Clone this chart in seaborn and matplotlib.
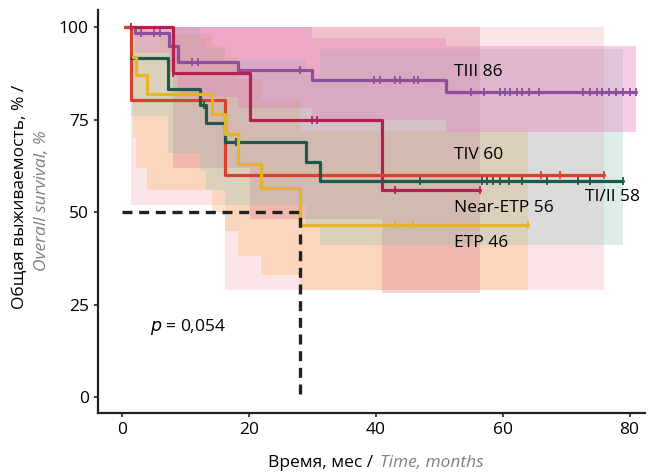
import numpy as np
import pandas as pd
import seaborn as sns
import matplotlib.pyplot as plt

# KM step curves (time in months, survival in %)
groups = ['TIII', 'Near-ETP', 'TIV', 'TI/II', 'ETP']

t_tiii = [0.5, 2, 7.5, 8.8, 18.3, 30, 51, 81]
s_tiii = [100, 98.5, 95, 90.5, 88.4, 85.7, 82.4, 82.4]
lo_tiii = [100, 93, 88, 81, 78, 75, 71.5, 71.5]
hi_tiii = [100, 100, 100, 100, 100, 97, 95, 95]

t_near = [0.5, 8, 20.2, 41, 56.5]
s_near = [100, 87.5, 75, 56, 56]
lo_near = [100, 62, 48, 28, 28]
hi_near = [100, 100, 100, 100, 100]

t_tiv = [0.5, 1.5, 16.2, 76]
s_tiv = [100, 80.3, 60, 60]
lo_tiv = [100, 52, 29, 29]
hi_tiv = [100, 100, 100, 100]

t_ti = [1.5, 7.3, 12.3, 13.3, 16.2, 29, 31.2, 79]
s_ti = [91.7, 83.3, 79, 74, 69, 63.5, 58.5, 58.5]
lo_ti = [76, 66, 61, 56, 52, 46, 41, 41]
hi_ti = [100, 100, 97, 94, 91, 87, 94, 94]

t_etp = [1.7, 2.3, 4, 14.2, 16.2, 18.3, 22, 28, 64]
s_etp = [92, 87, 82, 76.5, 71, 63, 56.5, 46.5, 46.5]
lo_etp = [70, 62, 56, 50, 45, 38, 33, 29, 29]
hi_etp = [100, 100, 98, 95, 92, 86, 80, 72, 72]

# censoring ticks
c_tiii = [3, 5, 6, 11, 12, 28, 39.8, 40.6, 43, 43.8, 46.1, 46.6, 55, 57,
          59.5, 60.3, 61.1, 62.2, 63.1, 64.2, 65.8, 72.6, 73.7, 74.8, 75.7,
          76.8, 77.9, 78.9, 80, 81]
c_near = [1.5, 8, 30, 30.7, 43, 56.5]
c_tiv = [66, 69, 76]
c_ti = [13, 18, 47, 56.7, 57.5, 58.4, 59.5, 61, 63, 67, 71.8, 73.7, 79]
c_etp = [43, 45.8, 64]

labels = ['TIII 86', 'TIV 60', 'Near-ETP 56', 'TI/II 58', 'ETP 46']

line_cols = {'TIII': '#8b4f9e', 'Near-ETP': '#b3214f', 'TIV': '#d9412e',
             'TI/II': '#1e5a47', 'ETP': '#e3b623'}
band_cols = {'TIII': ('#e77fbb', 0.38), 'Near-ETP': ('#d46a84', 0.28),
             'TIV': ('#f7a9b3', 0.3), 'TI/II': ('#8fc4bc', 0.3),
             'ETP': ('#fbbf78', 0.38)}

curves = {
    'TIII': (t_tiii, s_tiii, lo_tiii, hi_tiii, c_tiii),
    'Near-ETP': (t_near, s_near, lo_near, hi_near, c_near),
    'TIV': (t_tiv, s_tiv, lo_tiv, hi_tiv, c_tiv),
    'TI/II': (t_ti, s_ti, lo_ti, hi_ti, c_ti),
    'ETP': (t_etp, s_etp, lo_etp, hi_etp, c_etp),
}

sns.set_style('ticks')
plt.rcParams['font.family'] = ['Open Sans', 'DejaVu Sans']
plt.rcParams['text.color'] = 'black'
plt.rcParams['xtick.color'] = 'black'
plt.rcParams['ytick.color'] = 'black'

fig = plt.figure(figsize=(6.56, 4.75), dpi=100)
ax = fig.add_axes([0.149, 0.1305, 0.834, 0.8485])

# confidence bands
for g in ['TIV', 'ETP', 'Near-ETP', 'TI/II', 'TIII']:
    t, s, lo, hi, c = curves[g]
    col, a = band_cols[g]
    ax.fill_between(t, lo, hi, step='post', color=col, alpha=a, lw=0)

rows = []
for g in groups:
    t, s, lo, hi, c = curves[g]
    for ti, si in zip(t, s):
        rows.append({'group': g, 'time': ti, 'surv': si})
df = pd.DataFrame(rows)

sns.lineplot(data=df, x='time', y='surv', hue='group', palette=line_cols,
             estimator=None, drawstyle='steps-post', lw=2.3, legend=False,
             ax=ax, zorder=3)

for g in groups:
    t, s, lo, hi, c = curves[g]
    idx = np.searchsorted(t, c, side='right') - 1
    yc = np.array(s)[np.clip(idx, 0, len(s) - 1)]
    ax.plot(c, yc, ls='none', marker='|', ms=6, mew=1.3,
            color=line_cols[g], zorder=4)

# median line
ax.plot([0, 28, 28], [50, 50, 0.5], color='#222222', lw=2.4,
        ls=(0, (3, 2)), zorder=5)

ax.text(52.4, 87.8, labels[0], fontsize=12.5, va='center')
ax.text(52.4, 65.4, labels[1], fontsize=12.5, va='center')
ax.text(52.4, 51.0, labels[2], fontsize=12.5, va='center')
ax.text(72.9, 54.0, labels[3], fontsize=12.5, va='center')
ax.text(52.4, 41.6, labels[4], fontsize=12.5, va='center')
ax.text(4.4, 18.9, '$p$ = 0,054', fontsize=12.5, va='center')

ax.set_xlim(-3.8, 82.4)
ax.set_ylim(-4.3, 104.6)
ax.set_xticks([0, 20, 40, 60, 80])
ax.set_yticks([0, 25, 50, 75, 100])
ax.tick_params(labelsize=12.5, length=3, width=1.2, color='#222222')
for sp in ['left', 'bottom']:
    ax.spines[sp].set_linewidth(1.6)
    ax.spines[sp].set_color('#222222')
sns.despine(ax=ax)
ax.set_xlabel('')
ax.set_ylabel('')

fig.text(0.031, 0.585, 'Общая выживаемость, % /', rotation=90,
         ha='center', va='center', fontsize=12.5)
fig.text(0.064, 0.577, 'Overall survival, %', rotation=90, ha='center',
         va='center', fontsize=12.5, color='#808080', style='italic')
fig.text(0.576, 0.025, 'Время, мес / ', ha='right', va='center',
         fontsize=12.5)
fig.text(0.580, 0.025, 'Time, months', ha='left', va='center',
         fontsize=12.5, color='#808080', style='italic')

fig.savefig('out.png', dpi=100)
